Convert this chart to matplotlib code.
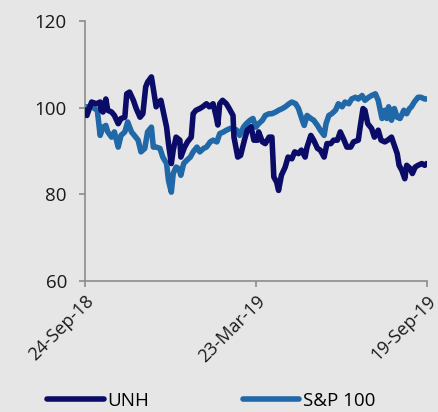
import numpy as np
import pandas as pd
import matplotlib
matplotlib.use("Agg")
import matplotlib.pyplot as plt

# calendar days after 24-Sep-18
start = pd.Timestamp("2018-09-24")
unh_days = [0, 2, 7, 12, 16, 17, 19, 22, 24, 28, 31, 35, 38, 42, 44, 47, 51, 54, 58, 61,
            64, 66, 70, 72, 75, 78, 80, 83, 86, 88, 91, 93, 96, 100, 101, 105, 108, 112, 114, 117,
            121, 124, 128, 131, 135, 138, 140, 142, 145, 149, 152, 156, 157, 161, 164, 168, 171, 175, 178, 182,
            183, 187, 190, 194, 197, 199, 202, 204, 207, 211, 214, 218, 221, 225, 228, 232, 234, 238, 241, 245,
            248, 252, 255, 259, 262, 266, 269, 273, 276, 280, 283, 288, 290, 293, 295, 298, 302, 305, 309, 312,
            316, 319, 323, 326, 329, 331, 334, 337, 339, 343, 345, 348, 351, 355, 358, 360]
unh = [99.5, 98.2, 101.3, 100.9, 101.3, 99.4, 99.0, 102.0, 99.4, 99.0, 98.2, 96.3, 97.5, 97.8, 103.2, 103.6, 101.7, 99.8, 97.8, 98.6,
       104.8, 105.9, 107.1, 104.4, 100.2, 101.3, 101.7, 98.6, 95.5, 91.7, 87.1, 90.2, 93.2, 92.5, 88.6, 90.9, 92.1, 93.2, 98.6, 99.4,
       99.8, 100.2, 100.9, 100.2, 100.9, 98.2, 96.0, 100.9, 101.7, 100.9, 99.8, 98.2, 93.2, 88.6, 89.0, 92.5, 94.8, 95.6, 92.5, 92.5,
       94.4, 92.1, 91.7, 93.2, 93.2, 84.0, 82.8, 80.9, 84.4, 86.3, 88.6, 88.2, 89.8, 89.4, 90.2, 88.6, 90.9, 93.6, 92.5, 90.6,
       90.2, 88.6, 91.7, 91.7, 92.5, 92.5, 94.4, 92.5, 90.9, 90.9, 92.1, 92.5, 95.6, 99.8, 99.4, 96.3, 95.2, 93.2, 94.8, 92.5,
       92.1, 92.5, 93.2, 91.3, 89.4, 86.7, 85.5, 83.6, 86.7, 85.9, 84.8, 86.3, 86.7, 87.1, 86.7, 87.1]

spx_days = [0, 3, 7, 10, 13, 16, 19, 22, 24, 28, 31, 35, 38, 42, 45, 49, 52, 56, 59, 63,
            66, 70, 72, 75, 79, 82, 86, 88, 91, 93, 96, 99, 101, 104, 107, 111, 114, 118, 121, 125,
            128, 132, 135, 139, 142, 146, 149, 153, 156, 160, 163, 167, 170, 174, 177, 180, 183, 187, 190, 194,
            197, 201, 204, 208, 211, 215, 218, 222, 225, 229, 231, 234, 238, 241, 245, 248, 252, 254, 257, 260,
            264, 267, 271, 274, 278, 281, 285, 288, 292, 295, 299, 302, 306, 309, 313, 316, 318, 320, 323, 326,
            329, 332, 336, 339, 342, 344, 347, 351, 354, 358, 360]
spx = [100.2, 100.2, 100.5, 99.8, 99.4, 93.6, 95.5, 95.9, 94.4, 93.2, 94.4, 90.9, 93.6, 94.4, 96.7, 94.4, 93.6, 92.5, 89.8, 90.6,
       94.4, 95.5, 90.9, 90.9, 90.6, 88.6, 87.1, 83.2, 80.5, 84.8, 86.3, 85.9, 84.4, 87.1, 87.8, 88.6, 89.8, 90.9, 89.8, 90.6,
       90.9, 92.1, 92.5, 92.1, 94.0, 94.4, 94.8, 95.2, 95.2, 94.8, 93.6, 95.5, 96.3, 97.1, 97.5, 95.5, 96.3, 97.1, 98.2, 98.6,
       98.6, 99.0, 99.4, 99.8, 100.2, 100.9, 101.3, 100.9, 99.8, 97.1, 95.9, 98.2, 97.5, 97.1, 95.9, 94.8, 93.6, 96.3, 98.2, 98.6,
       99.4, 100.9, 100.2, 101.3, 100.9, 102.0, 102.4, 102.0, 102.8, 101.7, 102.4, 102.8, 103.2, 101.7, 97.5, 99.4, 97.5, 100.2, 97.1, 99.8,
       97.8, 97.5, 99.4, 98.6, 99.8, 100.2, 101.3, 102.4, 102.4, 102.0, 102.0]

tick_labels = ["24-Sep-18", "23-Mar-19", "19-Sep-19"]
tick_dates = pd.to_datetime(["2018-09-24", "2019-03-23", "2019-09-19"])

bg = "#e6e6e6"
plt.rcParams["font.family"] = ["Open Sans", "DejaVu Sans"]

fig = plt.figure(figsize=(4.38, 4.12), dpi=100, facecolor=bg)
ax = fig.add_axes([0.194, 0.318, 0.78, 0.631], facecolor=bg)

unh_x = start + pd.to_timedelta(unh_days, unit="D")
spx_x = start + pd.to_timedelta(spx_days, unit="D")
ax.plot(unh_x, unh, color="#0b0b68", lw=4.0, solid_capstyle="round", solid_joinstyle="round",
        label="UNH", zorder=3)
ax.plot(spx_x, spx, color="#2068a8", lw=4.0, solid_capstyle="round", solid_joinstyle="round",
        label="S&P 100", zorder=2)

ax.set_ylim(60, 120)
ax.set_yticks([60, 80, 100, 120])
ax.set_xlim(tick_dates[0], tick_dates[-1])
ax.set_xticks(tick_dates)
ax.set_xticklabels(tick_labels, rotation=45, ha="right", rotation_mode="anchor")

for s in ["top", "right"]:
    ax.spines[s].set_visible(False)
for s in ["left", "bottom"]:
    ax.spines[s].set_color("#8c8c8c")
    ax.spines[s].set_linewidth(1.2)
ax.tick_params(axis="both", colors="#8c8c8c", length=4, width=1.2, labelcolor="#1a1a1a")
ax.tick_params(axis="y", pad=9, labelsize=13.5)
ax.tick_params(axis="x", pad=4, labelsize=13)

ax.legend(loc="lower center", bbox_to_anchor=(0.37, -0.56), ncol=2, frameon=False,
          fontsize=13.5, handlelength=3.0, handletextpad=0.2, columnspacing=5.0)

fig.savefig("out.png", dpi=100, facecolor=bg)
